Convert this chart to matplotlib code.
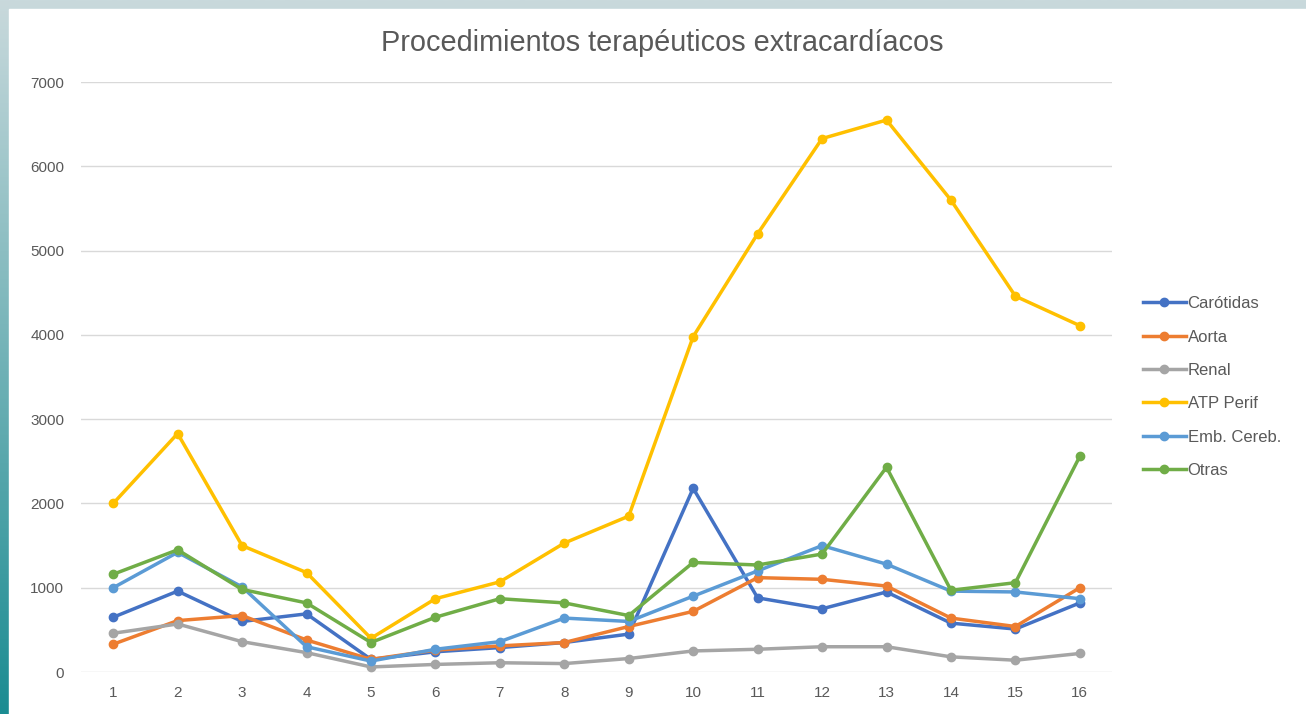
import numpy as np
import matplotlib
matplotlib.use("Agg")
import matplotlib.pyplot as plt
from matplotlib.patches import Rectangle

# =========================
# DATA
# =========================

periods = list(range(1, 17))

carotidas = [650, 960, 600, 690, 150, 240, 290, 350, 450, 2180, 880, 750, 950, 580, 510, 820]
aorta = [330, 610, 670, 380, 150, 260, 310, 350, 540, 720, 1120, 1100, 1020, 640, 540, 1000]
renal = [460, 570, 360, 230, 60, 90, 110, 100, 160, 250, 270, 300, 300, 180, 140, 220]
atp_perif = [2000, 2830, 1500, 1180, 400, 870, 1070, 1530, 1850, 3980, 5200, 6330, 6550, 5600, 4460, 4110]
emb_cereb = [1000, 1420, 1010, 300, 130, 270, 360, 640, 600, 900, 1200, 1500, 1280, 960, 950, 870]
otras = [1160, 1450, 980, 820, 350, 650, 870, 820, 670, 1300, 1270, 1400, 2430, 970, 1060, 2560]

series_names = ["Carótidas", "Aorta", "Renal", "ATP Perif", "Emb. Cereb.", "Otras"]
series_colors = ["#4472C4", "#ED7D31", "#A5A5A5", "#FFC000", "#5B9BD5", "#70AD47"]

# =========================
# FIGURE + BACKGROUND
# =========================

plt.rcParams['font.family'] = ['Liberation Sans', 'DejaVu Sans']

fig = plt.figure(figsize=(13.06, 7.14), dpi=100)

# teal gradient frame behind the white chart panel
bg = fig.add_axes([0, 0, 1, 1], zorder=-10)
grad = np.linspace(0, 1, 256).reshape(-1, 1)
cmap = matplotlib.colors.LinearSegmentedColormap.from_list("frame", ["#1b8c92", "#c9d9dc"])
bg.imshow(grad, aspect="auto", cmap=cmap, origin="lower", extent=[0, 1, 0, 1])
bg.add_patch(Rectangle((9 / 1306, 0), 1, 1 - 9 / 714, color="white", zorder=2))
bg.set_xlim(0, 1)
bg.set_ylim(0, 1)
bg.axis("off")

ax = fig.add_axes([0.062, 0.0588, 0.7895, 0.8262])
ax.set_facecolor("none")

all_series = [carotidas, aorta, renal, atp_perif, emb_cereb, otras]
for vals, name, col in zip(all_series, series_names, series_colors):
    ax.plot(periods, vals, color=col, lw=2.5, marker="o", markersize=6, label=name,
            solid_joinstyle="round")

ax.set_xlim(0.5, 16.5)
ax.set_ylim(0, 7000)
ax.set_xticks(periods)
ax.set_yticks(range(0, 7001, 1000))
ax.grid(axis="y", color="#d9d9d9", lw=1)
ax.set_axisbelow(True)
for s in ax.spines.values():
    s.set_visible(False)
ax.tick_params(length=0, labelsize=11, colors="#595959")
ax.tick_params(axis="y", pad=12)
ax.tick_params(axis="x", pad=10)

fig.text(0.507, 0.94, "Procedimientos terapéuticos extracardíacos", ha="center", va="center",
         fontsize=20.8, color="#595959")

ax.legend(loc="center left", bbox_to_anchor=(1.015, 0.483), frameon=False, fontsize=12,
          labelcolor="#595959", handlelength=2.6, handletextpad=0.1, labelspacing=1.1)

fig.savefig("out.png", dpi=100)
